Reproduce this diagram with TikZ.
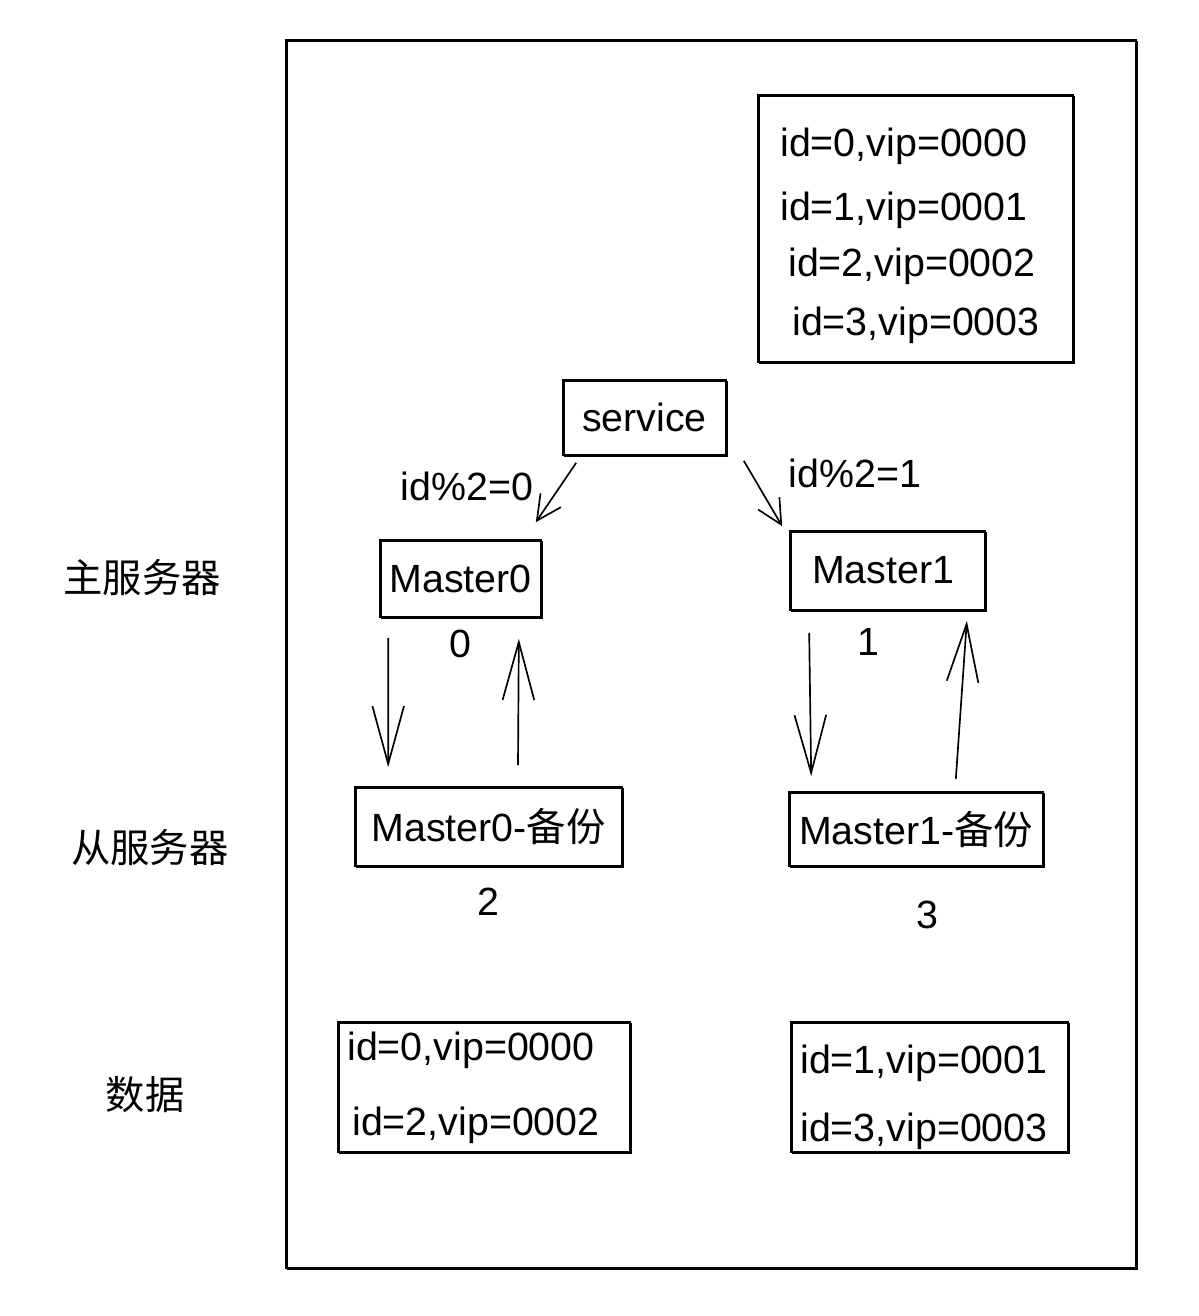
\documentclass[tikz,border=0pt]{standalone}
\usepackage{fontspec}
\setmainfont{Liberation Sans}
\newfontfamily\cjk{Noto Sans CJK SC}
\usetikzlibrary{arrows.meta,calc}
\tikzset{
  sk/.style={draw, line width=0.95pt, inner sep=0pt,
    postaction={draw, line width=0.6pt, transform canvas={xshift=0.9pt, yshift=-0.7pt}}},
  txt/.style={inner sep=0pt, font=\fontsize{22.4pt}{27pt}\selectfont},
  arr/.style={line width=0.95pt, -{Straight Barb[length=33pt,width=18pt,line width=0.95pt]}},
  arrs/.style={line width=0.95pt, -{Straight Barb[length=14pt,width=14pt,line width=0.95pt]}},
}
\begin{document}
\begin{tikzpicture}[x=0.02cm,y=-0.02cm]
\useasboundingbox (0,0) rectangle (1198,1316);
% frame
\node[sk, minimum width=17cm, minimum height=24.56cm] (frame) at (711,654) {};
% top-right list
\node[sk, minimum width=6.3cm, minimum height=5.34cm] (tr) at (915.5,228.5) {};
\node[txt, anchor=west] (t0) at (780,146) {id=0,vip=0000};
\node[txt, anchor=west] (t1) at (780,210) {id=1,vip=0001};
\node[txt, anchor=west] (t2) at (788,266) {id=2,vip=0002};
\node[txt, anchor=west] (t3) at (792,325) {id=3,vip=0003};
% service
\node[sk, txt, minimum width=3.26cm, minimum height=1.5cm] (service) at (644.5,417.5) {service};
% masters
\node[sk, txt, minimum width=3.22cm, minimum height=1.54cm] (m0) at (460.5,578.5) {Master0};
\node[sk, txt, minimum width=3.9cm, minimum height=1.58cm] (m1) at (887.5,570.5) {\hspace*{-5pt}Master1};
% backups
\node[sk, txt, minimum width=5.34cm, minimum height=1.58cm] (b0) at (488.5,826.5) {Master0-{\cjk 备份}};
\node[sk, txt, minimum width=5.08cm, minimum height=1.48cm] (b1) at (916,829) {Master1-{\cjk 备份}};
% data boxes
\node[sk, minimum width=5.84cm, minimum height=2.6cm] (d0) at (484,1087) {};
\node[txt, anchor=west] (d0a) at (347,1050) {id=0,vip=0000};
\node[txt, anchor=west] (d0b) at (352,1125) {id=2,vip=0002};
\node[sk, minimum width=5.54cm, minimum height=2.6cm] (d1) at (929.5,1087) {};
\node[txt, anchor=west] (d1a) at (800,1063) {id=1,vip=0001};
\node[txt, anchor=west] (d1b) at (800,1131) {id=3,vip=0003};
% labels
\node[txt] (l0) at (467,486) {id\%2=0};
\node[txt] (l1) at (855,473) {id\%2=1};
\node[txt] (n0) at (460,644) {0};
\node[txt] (n1) at (868,642) {1};
\node[txt] (n2) at (488,902) {2};
\node[txt] (n3) at (927,915) {3};
\node[txt] (r0) at (142,578) {\cjk 主服务器};
\node[txt] (r1) at (150,848) {\cjk 从服务器};
\node[txt] (r2) at (145,1095) {\cjk 数据};
% arrows
\draw[arrs] ($(service.south west)+(14,7)$) -- ($(m0.north east)+(-6,-17)$);
\draw[arrs] ($(service.south east)+(17,5)$) -- ($(m1.north west)+(-7,-4)$);
\draw[arr] ($(m0.south west)+(9,20)$) -- ($(b0.north west)+(34,-19)$);
\draw[arr] ($(b0.north)+(29.5,-21)$) -- ($(m0.south east)+(-23,21)$);
\draw[arr] ($(m1.south west)+(20,22)$) -- ($(b1.north west)+(23,-15)$);
\draw[arr] ($(b1.north east)+(-88,-12)$) -- ($(m1.south east)+(-19,10)$);
\end{tikzpicture}
\end{document}
